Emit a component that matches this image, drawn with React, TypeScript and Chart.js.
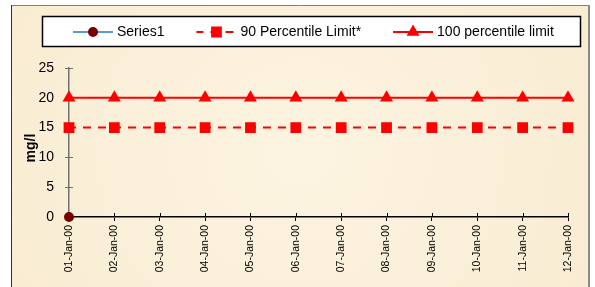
import React, { useEffect, useRef } from "react";
import { Chart, registerables } from "chart.js";
import { drawPoint } from "chart.js/helpers";

Chart.register(...registerables);

const categories = [
  "01-Jan-00", "02-Jan-00", "03-Jan-00", "04-Jan-00", "05-Jan-00", "06-Jan-00",
  "07-Jan-00", "08-Jan-00", "09-Jan-00", "10-Jan-00", "11-Jan-00", "12-Jan-00",
];
const series1 = [0, null, null, null, null, null, null, null, null, null, null, null];
const limit90 = [15, 15, 15, 15, 15, 15, 15, 15, 15, 15, 15, 15];
const limit100 = [20, 20, 20, 20, 20, 20, 20, 20, 20, 20, 20, 20];
const seriesNames = ["Series1", "90 Percentile Limit*", "100 percentile limit"];
const yMin = 0;
const yMax = 25;
const yStep = 5;
const yTitle = "mg/l";

const FONT = "Arial, 'Liberation Sans', sans-serif";

const backgroundPlugin = {
  id: "parchment",
  beforeDraw(chart: any) {
    const { ctx, width, height } = chart;
    ctx.save();
    ctx.fillStyle = "#ffffff";
    ctx.fillRect(0, 0, width, height);
    const g = ctx.createRadialGradient(300, 150, 20, 300, 150, 380);
    g.addColorStop(0, "#FCF3E0");
    g.addColorStop(1, "#F8EBD0");
    ctx.fillStyle = g;
    ctx.fillRect(11, 5, 579, height);
    ctx.lineWidth = 1;
    ctx.strokeStyle = "#808080";
    ctx.beginPath();
    ctx.moveTo(11, 5.5);
    ctx.lineTo(590, 5.5);
    ctx.stroke();
    ctx.strokeStyle = "#333333";
    ctx.beginPath();
    ctx.moveTo(11.5, 5);
    ctx.lineTo(11.5, height);
    ctx.stroke();
    ctx.strokeStyle = "#8a8a8a";
    ctx.lineWidth = 2;
    ctx.beginPath();
    ctx.moveTo(589, 5);
    ctx.lineTo(589, height);
    ctx.stroke();
    ctx.restore();
  },
};

const crossTicksPlugin = {
  id: "crossTicks",
  beforeDatasetsDraw(chart: any) {
    const { ctx, chartArea, scales } = chart;
    const xs = scales.x;
    const ys = scales.y;
    ctx.save();
    ctx.lineWidth = 1;
    ctx.strokeStyle = "#000000";
    ctx.beginPath();
    xs.ticks.forEach((_: any, i: number) => {
      const px = Math.round(xs.getPixelForTick(i)) + 0.5;
      ctx.moveTo(px, chartArea.bottom);
      ctx.lineTo(px, chartArea.bottom - 4);
    });
    ctx.stroke();
    ctx.strokeStyle = "#707070";
    ctx.beginPath();
    ys.ticks.forEach((_: any, i: number) => {
      const py = Math.round(ys.getPixelForTick(i)) + 0.5;
      ctx.moveTo(chartArea.left, py);
      ctx.lineTo(chartArea.left + 4, py);
    });
    ctx.stroke();
    // y-axis title
    ctx.save();
    ctx.translate(31, 148);
    ctx.rotate(-Math.PI / 2);
    ctx.font = `bold 14px ${FONT}`;
    ctx.fillStyle = "#000000";
    ctx.textAlign = "center";
    ctx.textBaseline = "middle";
    ctx.fillText(yTitle, 0, 0);
    ctx.restore();
    ctx.restore();
  },
};

const boxLegendPlugin = {
  id: "boxLegend",
  afterDraw(chart: any) {
    const { ctx } = chart;
    ctx.save();
    ctx.fillStyle = "#ffffff";
    ctx.fillRect(42, 16, 539, 31);
    ctx.strokeStyle = "#000000";
    ctx.lineWidth = 1.5;
    ctx.strokeRect(42.5, 16.5, 538, 30);
    ctx.font = `14px ${FONT}`;
    ctx.textBaseline = "middle";
    ctx.textAlign = "left";
    let x = 73;
    const y = 32;
    chart.data.datasets.forEach((ds: any) => {
      ctx.save();
      ctx.strokeStyle = ds.borderColor;
      ctx.lineWidth = ds.borderWidth;
      ctx.setLineDash(ds.borderDash || []);
      ctx.lineDashOffset = ds.borderDashOffset || 0;
      ctx.beginPath();
      ctx.moveTo(x, y);
      ctx.lineTo(x + 40, y);
      ctx.stroke();
      ctx.setLineDash([]);
      ctx.fillStyle = ds.pointBackgroundColor;
      ctx.strokeStyle = ds.pointBorderColor;
      drawPoint(ctx, { pointStyle: ds.pointStyle, radius: ds.pointRadius, rotation: 0, borderWidth: 1 } as any, x + 20, y);
      ctx.restore();
      ctx.fillStyle = "#000000";
      ctx.fillText(ds.label, x + 44, y + 0.5);
      x += 44 + ctx.measureText(ds.label).width + 32;
    });
    ctx.restore();
  },
};

export default function App() {
  const ref = useRef<HTMLCanvasElement | null>(null);
  useEffect(() => {
    if (!ref.current) return;
    const chart = new Chart(ref.current, {
      type: "line",
      data: {
        labels: categories,
        datasets: [
          {
            label: seriesNames[0],
            data: series1,
            borderColor: "#5B9BD5",
            borderWidth: 2,
            pointStyle: "circle",
            pointRadius: 4,
            pointBackgroundColor: "#7A0000",
            pointBorderColor: "#7A0000",
            clip: false,
          } as any,
          {
            label: seriesNames[1],
            data: limit90,
            borderColor: "#FF0000",
            borderWidth: 2,
            borderDash: [8, 7],
            borderDashOffset: 1,
            pointStyle: "rect",
            pointRadius: 6.2,
            pointBackgroundColor: "#FF0000",
            pointBorderColor: "#FF0000",
            clip: false,
          } as any,
          {
            label: seriesNames[2],
            data: limit100,
            borderColor: "#FF0000",
            borderWidth: 2,
            pointStyle: "triangle",
            pointRadius: 5.5,
            pointBackgroundColor: "#FF0000",
            pointBorderColor: "#FF0000",
            clip: false,
          } as any,
        ],
      },
      options: {
        animation: false,
        responsive: false,
        devicePixelRatio: 1,
        layout: { padding: { top: 68, right: 27, bottom: 0, left: 0 } },
        plugins: {
          legend: { display: false },
          tooltip: { enabled: false },
          title: { display: false },
        },
        scales: {
          x: {
            type: "category",
            offset: false,
            grid: { display: true, drawOnChartArea: false, drawTicks: true, tickLength: 4, color: "#000000" },
            border: { display: true, color: "#000000", width: 1.5 },
            ticks: {
              autoSkip: false,
              minRotation: 90,
              maxRotation: 90,
              padding: 4,
              color: "#000000",
              font: { family: FONT, size: 10.5 },
            },
            afterFit(scale: any) {
              scale.height = 70;
            },
          },
          y: {
            min: yMin,
            max: yMax,
            grid: { display: true, drawOnChartArea: false, drawTicks: true, tickLength: 4, color: "#707070" },
            border: { display: true, color: "#707070", width: 1.5 },
            ticks: {
              stepSize: yStep,
              padding: 11,
              color: "#000000",
              font: { family: FONT, size: 14 },
            },
            title: { display: false },
            afterFit(scale: any) {
              scale.width = 69;
            },
          },
        },
      },
      plugins: [backgroundPlugin, crossTicksPlugin, boxLegendPlugin],
    });
    return () => chart.destroy();
  }, []);
  return (
    <div style={{ position: "fixed", left: 0, top: 0, width: 595, height: 287 }}>
      <canvas ref={ref} width={595} height={287} style={{ width: 595, height: 287, display: "block" }} />
    </div>
  );
}
